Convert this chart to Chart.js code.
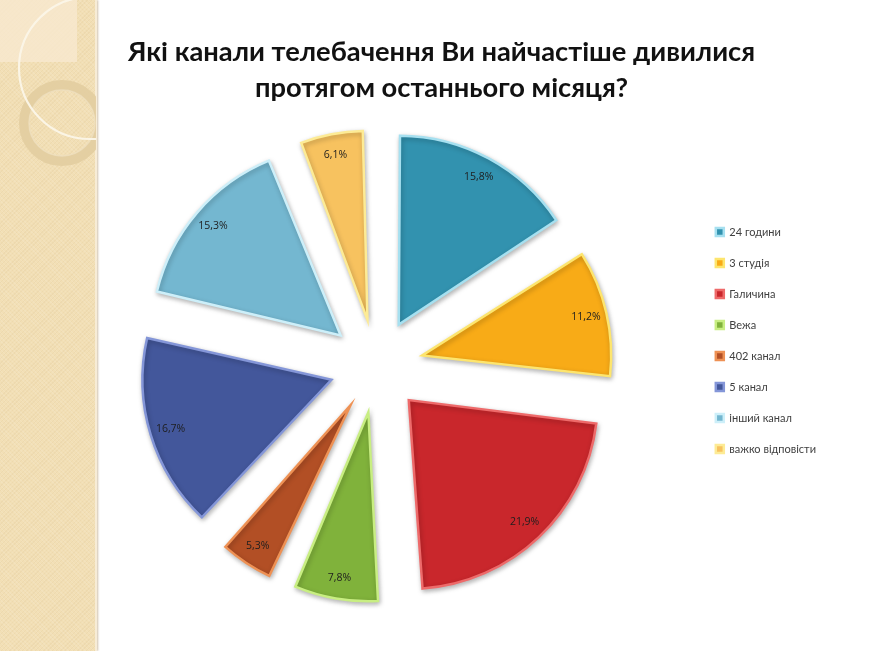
<!DOCTYPE html>
<html>
<head>
<meta charset="utf-8">
<script src="https://cdn.jsdelivr.net/npm/chart.js@4.4.0/dist/chart.umd.min.js"></script>
<style>
  html, body { margin: 0; padding: 0; background: #ffffff; }
  body { width: 869px; height: 651px; position: relative; overflow: hidden; }
  #strip {
    position: absolute; left: 0; top: 0; width: 95px; height: 651px;
    background-color: #f2dfb5;
    background-image: repeating-linear-gradient(45deg, rgba(255,255,255,0.10) 0 1px, rgba(0,0,0,0) 1px 3px),
                      repeating-linear-gradient(-45deg, rgba(160,120,60,0.06) 0 1px, rgba(0,0,0,0) 1px 3px);
    border-right: 2px solid #f7ecd6;
    box-shadow: 1px 0 2px rgba(150,120,70,0.45);
  }
  #deco { position: absolute; left: 0; top: 0; }
  #c { position: absolute; left: 0; top: 0; }
</style>
</head>
<body>
<div id="strip"></div>
<svg id="deco" width="96" height="200" viewBox="0 0 96 200">
  <rect x="0" y="0" width="77" height="62" fill="#f7e9cf" opacity="0.8"/>
  <circle cx="62" cy="123" r="38" fill="none" stroke="#e2cda0" stroke-width="10" opacity="0.9"/>
  <circle cx="62" cy="123" r="33" fill="none" stroke="#efe0bf" stroke-width="1.5" opacity="0.8"/>
  <circle cx="90" cy="68" r="71" fill="none" stroke="#fbf5e8" stroke-width="2.2" opacity="0.95"/>
</svg>
<canvas id="c" width="869" height="651"></canvas>
<script>
const titleLines = ["Які канали телебачення Ви найчастіше дивилися", "протягом останнього місяця?"];
const categories = ["24 години", "3 студія", "Галичина", "Вежа", "402 канал", "5 канал", "інший канал", "важко відповісти"];
const shares = [15.8, 11.2, 21.9, 7.8, 5.3, 16.7, 15.3, 6.1];
const fillColors = ["#3292af", "#f8ab17", "#c9272c", "#80b23b", "#b24f25", "#43579b", "#74b7d0", "#f7c25f"];
const edgeColors = ["#a6e0f0", "#fde56e", "#ee6a6a", "#c8ee82", "#ee9154", "#8496d8", "#cdeff9", "#fdeb95"];

const EXPLODE = 47;   // px the slices are pulled out
const RADIUS = 189;

const explodeFix = {
  id: 'explodeFix',
  afterDatasetUpdate(chart, args) {
    const meta = args.meta;
    const R = meta.controller.outerRadius;
    meta.data.forEach(el => {
      const off = (el.options.offset || 0) / 4;
      const c = el.endAngle - el.startAngle;
      el.outerRadius = R - off * (1 - Math.sin(Math.min(Math.PI, c)));
    });
  }
};

const sliceShadow = {
  id: 'sliceShadow',
  beforeDatasetsDraw(chart) {
    const ctx = chart.ctx;
    ctx.save();
    ctx.shadowColor = 'rgba(0,0,0,0.28)';
    ctx.shadowBlur = 5;
    ctx.shadowOffsetX = 1;
    ctx.shadowOffsetY = 2;
  },
  afterDatasetsDraw(chart) {
    chart.ctx.restore();
  }
};

const pctLabels = {
  id: 'pctLabels',
  afterDatasetsDraw(chart) {
    const ctx = chart.ctx;
    const meta = chart.getDatasetMeta(0);
    const R = meta.controller.outerRadius;
    ctx.save();
    ctx.font = '10.5px "Open Sans"';
    ctx.fillStyle = '#1e1e1e';
    ctx.textAlign = 'center';
    ctx.textBaseline = 'middle';
    meta.data.forEach((el, i) => {
      const mid = (el.startAngle + el.endAngle) / 2;
      const d = (el.options.offset || 0) / 4 + 0.89 * R;
      const x = el.x + Math.cos(mid) * d;
      const y = el.y + Math.sin(mid) * d;
      ctx.fillText(shares[i].toFixed(1).replace('.', ',') + '%', x, y);
    });
    ctx.restore();
  }
};

new Chart(document.getElementById('c'), {
  type: 'pie',
  data: {
    labels: categories,
    datasets: [{
      data: shares,
      backgroundColor: fillColors,
      borderColor: edgeColors,
      borderWidth: 2.5,
      borderJoinStyle: 'miter',
      offset: EXPLODE * 4
    }]
  },
  options: {
    responsive: false,
    animation: false,
    radius: RADIUS,
    layout: { padding: { left: 57, right: 43, top: 0, bottom: 29 } },
    plugins: {
      title: {
        display: true,
        text: titleLines,
        color: '#111111',
        font: { family: 'Lato', size: 27.3, weight: 'bold', lineHeight: 36 / 27.3 },
        padding: { top: 34, bottom: 4 }
      },
      legend: {
        position: 'right',
        align: 'start',
        title: { display: true, text: '', padding: { top: 194.5, bottom: 0 }, font: { size: 10, lineHeight: 1.2 } },
        labels: {
          boxWidth: 8, boxHeight: 8, padding: 20,
          color: '#404040',
          font: { family: 'Lato', size: 11 }
        }
      },
      tooltip: { enabled: false }
    }
  },
  plugins: [explodeFix, sliceShadow, pctLabels]
});
</script>
</body>
</html>
